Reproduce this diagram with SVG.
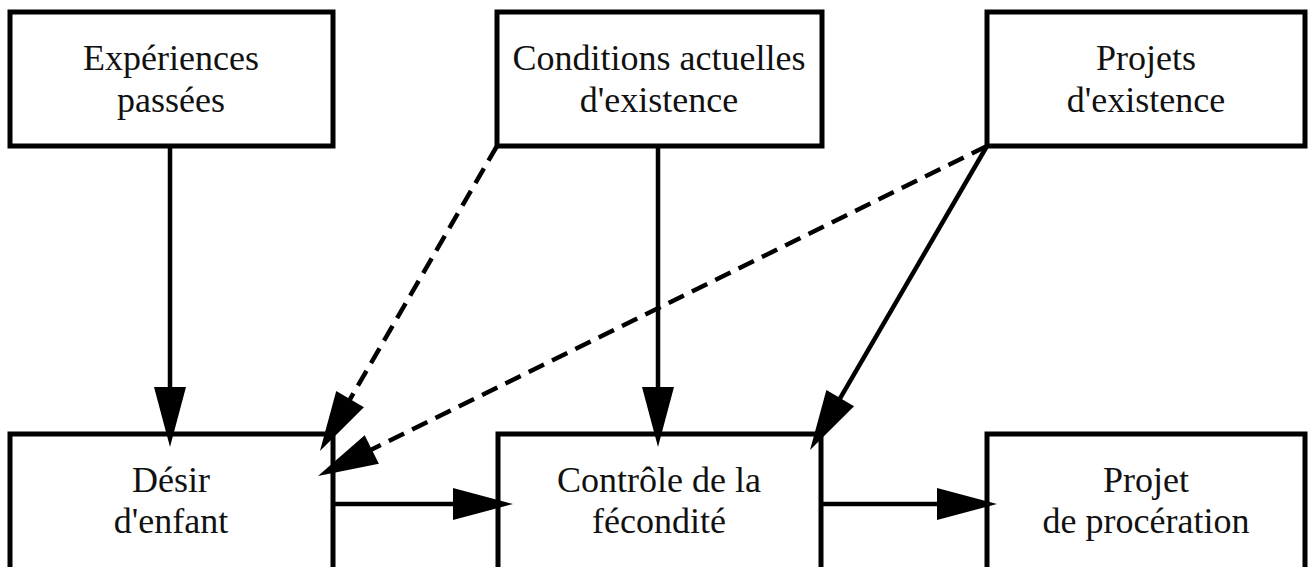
<svg xmlns="http://www.w3.org/2000/svg" width="1311" height="567" viewBox="0 0 1311 567">
<style>
.box{fill:#fff;stroke:#000;stroke-width:5}
.t{font-family:"Liberation Serif","Times New Roman",serif;font-size:36px;fill:#111;text-anchor:middle}
.c{stroke:#000;stroke-width:4.5;fill:none;marker-end:url(#ah)}
.d{stroke-dasharray:17 9}
</style>
<defs>
<marker id="ah" markerUnits="userSpaceOnUse" markerWidth="60" markerHeight="32" refX="40" refY="16" orient="auto" overflow="visible">
<path d="M0,0 L60,16 L0,32 Z" fill="#000"/>
</marker>
</defs>
<rect width="1311" height="567" fill="#fff"/>
<g id="n1"><rect class="box" x="10" y="12" width="323" height="134"/><text class="t" x="171" y="70">Expériences</text><text class="t" x="171" y="112">passées</text></g>
<g id="n2"><rect class="box" x="497" y="12" width="325" height="134"/><text class="t" x="659" y="70">Conditions actuelles</text><text class="t" x="659" y="112">d'existence</text></g>
<g id="n3"><rect class="box" x="987" y="12" width="318" height="134"/><text class="t" x="1146" y="70">Projets</text><text class="t" x="1146" y="112">d'existence</text></g>
<g id="n4"><rect class="box" x="10" y="434" width="323" height="180"/><text class="t" x="171" y="492">Désir</text><text class="t" x="171" y="533">d'enfant</text></g>
<g id="n5"><rect class="box" x="498" y="434" width="323" height="180"/><text class="t" x="659" y="492">Contrôle de la</text><text class="t" x="659" y="533">fécondité</text></g>
<g id="n6"><rect class="box" x="987" y="434" width="318" height="180"/><text class="t" x="1146" y="492">Projet</text><text class="t" x="1146" y="533">de procération</text></g>
<g id="connectors">
<line class="c" x1="170" y1="146" x2="170" y2="427"/>
<line class="c" x1="658" y1="146" x2="658" y2="427"/>
<line class="c d" x1="497" y1="146" x2="330" y2="433.7"/>
<line class="c d" x1="987" y1="146" x2="335.9" y2="467.2"/>
<line class="c" x1="987" y1="146" x2="820.1" y2="432.7"/>
<line class="c" x1="333" y1="504" x2="493" y2="504"/>
<line class="c" x1="821" y1="504" x2="977" y2="504"/>
</g>
</svg>
